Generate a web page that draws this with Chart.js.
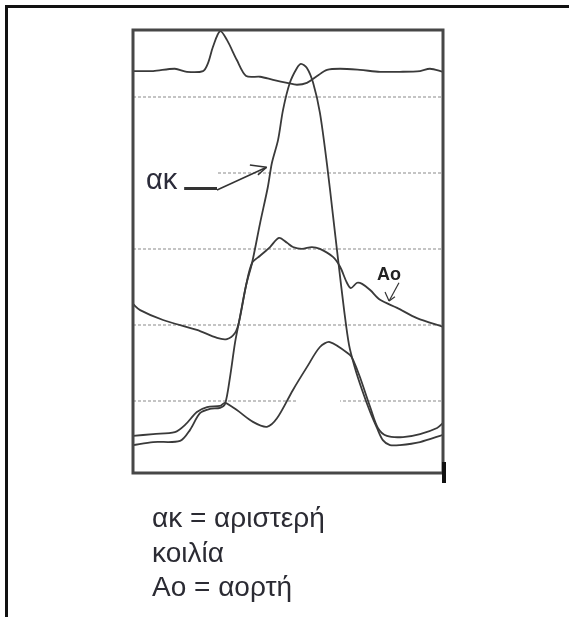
<!DOCTYPE html>
<html>
<head>
<meta charset="utf-8">
<script src="https://cdn.jsdelivr.net/npm/chart.js@4"></script>
<style>
  body { margin: 0; background: #fff; }
  #wrap { position: relative; width: 569px; height: 617px; overflow: hidden; }
  #frame { position: absolute; left: 5px; top: 5px; width: 600px; height: 700px;
           border-top: 3px solid #111; border-left: 3px solid #111; }
  canvas { position: absolute; left: 0; top: 0; }
  #legend { position: absolute; left: 152px; top: 501px; color: #2b2b33;
            font: 28px "Liberation Sans", Arial, sans-serif; line-height: 34.5px; }
</style>
</head>
<body>
<div id="wrap">
  <div id="frame"></div>
  <canvas id="chart" width="569" height="617"></canvas>
  <div id="legend">ακ = αριστερή<br>κοιλία<br>Ao = αορτή</div>
</div>
<script>
// time axis: 0..100 % of the cycle, pressure axis: arbitrary units
const ecgX = [0, 6.5, 13.5, 17.4, 22.6, 24.2, 25.8, 28.1, 30.3, 33.5, 36.5, 41.0, 45.2, 49.7, 52.9, 56.1, 59.4, 62.6, 66.8, 73.2, 79.7, 86.1, 92.6, 95.8, 100];
const ecgY = [106.8, 106.8, 107.4, 106.6, 106.8, 108.9, 113.2, 117.3, 115.0, 109.7, 105.5, 105.3, 104.5, 103.7, 103.2, 103.7, 105.5, 107.1, 107.4, 107.1, 106.6, 106.6, 106.8, 107.4, 106.6];

const lvX = [0, 6.5, 15.2, 18.4, 21.6, 24.8, 28.1, 29.7, 31.3, 32.9, 34.2, 36.5, 38.4, 41.0, 43.5, 44.8, 46.8, 48.4, 50.6, 52.9, 54.2, 56.1, 58.1, 60.3, 62.6, 64.5, 66.1, 68.1, 69.7, 71.6, 73.9, 76.5, 78.7, 80.6, 82.9, 86.1, 92.6, 100];
const lvY = [8.4, 9.2, 9.5, 12.4, 16.8, 17.9, 18.2, 19.2, 26.3, 35.3, 40.8, 50.5, 56.3, 66.8, 76.3, 82.6, 88.7, 96.6, 103.7, 107.6, 108.7, 107.6, 103.7, 95.8, 82.1, 68.9, 57.6, 43.9, 34.7, 28.7, 22.9, 17.1, 12.9, 9.7, 8.4, 8.4, 9.2, 11.1];

const thirdX = [0, 6.5, 13.5, 16.8, 20.6, 23.9, 28.1, 29.7, 33.5, 38.7, 43.2, 46.5, 51.6, 56.1, 60.3, 63.5, 70.0, 71.0, 73.2, 76.5, 79.0, 81.9, 87.1, 92.6, 98.1, 100];
const thirdY = [10.8, 11.3, 11.8, 13.7, 17.1, 18.4, 18.7, 19.5, 17.6, 14.5, 13.2, 15.5, 22.9, 28.9, 34.2, 35.5, 32.1, 30.8, 26.3, 18.4, 12.9, 10.8, 10.5, 11.3, 12.9, 14.2];

const aoX = [0, 2.3, 9.7, 20.6, 27.1, 30.3, 32.9, 34.2, 36.5, 38.4, 41.0, 44.2, 47.1, 49.7, 51.6, 54.5, 57.7, 60.3, 64.5, 66.8, 69.0, 70.3, 72.3, 73.9, 76.5, 79.7, 85.2, 91.6, 100];
const aoY = [45.5, 43.9, 41.3, 38.7, 36.6, 36.3, 37.9, 40.8, 50.5, 56.3, 58.2, 60.5, 62.9, 61.6, 60.5, 60.0, 60.5, 60.0, 57.9, 55.3, 51.1, 49.7, 51.1, 50.8, 49.2, 46.6, 44.5, 41.8, 39.5];

const gridLevels = [20, 40, 60, 80, 100];

const pts = (xs, ys) => xs.map((x, i) => ({ x, y: ys[i] }));
const lineStyle = { borderColor: '#3a3a3a', borderWidth: 1.8, pointRadius: 0, tension: 0.3, fill: false };

const overlay = {
  id: 'overlay',
  beforeDatasetsDraw(chart) {
    // white patches where the dotted guide lines are broken in the scan
    const { ctx, scales: { x, y } } = chart;
    ctx.save();
    ctx.fillStyle = '#fff';
    for (const [v, a, b] of [[80, 0, 27.1], [20, 53.2, 66.8]]) {
      const x0 = x.getPixelForValue(a), x1 = x.getPixelForValue(b);
      ctx.fillRect(x0, y.getPixelForValue(v) - 3, x1 - x0, 6);
    }
    ctx.restore();
  },
  afterDatasetsDraw(chart) {
    const { ctx, chartArea: a, scales: { x, y } } = chart;
    const P = (vx, vy) => [x.getPixelForValue(vx), y.getPixelForValue(vy)];
    const seg = (p, q, w) => {
      ctx.lineWidth = w;
      ctx.beginPath(); ctx.moveTo(...p); ctx.lineTo(...q); ctx.stroke();
    };
    ctx.save();
    // plot frame
    ctx.strokeStyle = '#474747';
    ctx.lineWidth = 3;
    ctx.strokeRect(a.left, a.top, a.right - a.left, a.bottom - a.top);
    ctx.fillStyle = '#111';
    ctx.fillRect(a.right - 1, a.bottom - 11, 4, 21);

    // "ακ" label with arrow
    ctx.fillStyle = '#2b2b3a';
    ctx.font = '29px "Liberation Sans", Arial, sans-serif';
    ctx.fillText('ακ', ...P(4.2, 75.8));
    ctx.strokeStyle = '#333';
    seg(P(16.5, 75.9), P(27.1, 75.9), 3);
    const tip = P(43.1, 81.5);
    seg(P(27.1, 75.5), tip, 1.5);
    seg(P(37.7, 82.1), tip, 1.5);
    seg(P(40.3, 79.5), tip, 1.5);

    // "Ao" label with small arrow
    ctx.fillStyle = '#222';
    ctx.font = 'bold 18px "Liberation Sans", Arial, sans-serif';
    ctx.fillText('Ao', ...P(78.7, 51.8));
    const tip2 = P(82.6, 46.3);
    seg(P(85.8, 51.1), tip2, 1.2);
    seg(P(81.3, 48.7), tip2, 1.2);
    seg(P(84.5, 47.4), tip2, 1.2);
    ctx.restore();
  }
};

new Chart(document.getElementById('chart'), {
  type: 'line',
  data: {
    datasets: [
      { label: 'ECG', data: pts(ecgX, ecgY), ...lineStyle },
      { label: 'ακ', data: pts(lvX, lvY), ...lineStyle },
      { label: 'third', data: pts(thirdX, thirdY), ...lineStyle },
      { label: 'Ao', data: pts(aoX, aoY), ...lineStyle }
    ]
  },
  options: {
    responsive: false,
    animation: false,
    events: [],
    layout: { padding: { left: 133, top: 30, right: 126, bottom: 144 } },
    plugins: { legend: { display: false }, tooltip: { enabled: false } },
    scales: {
      x: { type: 'linear', min: 0, max: 100, display: false },
      y: {
        type: 'linear', min: 1.05, max: 117.6,
        ticks: { display: false, stepSize: 20 },
        border: { display: false, dash: [3, 2] },
        grid: {
          drawTicks: false,
          lineWidth: 2,
          color: c => gridLevels.includes(c.tick && c.tick.value) ? '#c4c4c4' : 'rgba(0,0,0,0)'
        }
      }
    }
  },
  plugins: [overlay]
});
</script>
</body>
</html>
